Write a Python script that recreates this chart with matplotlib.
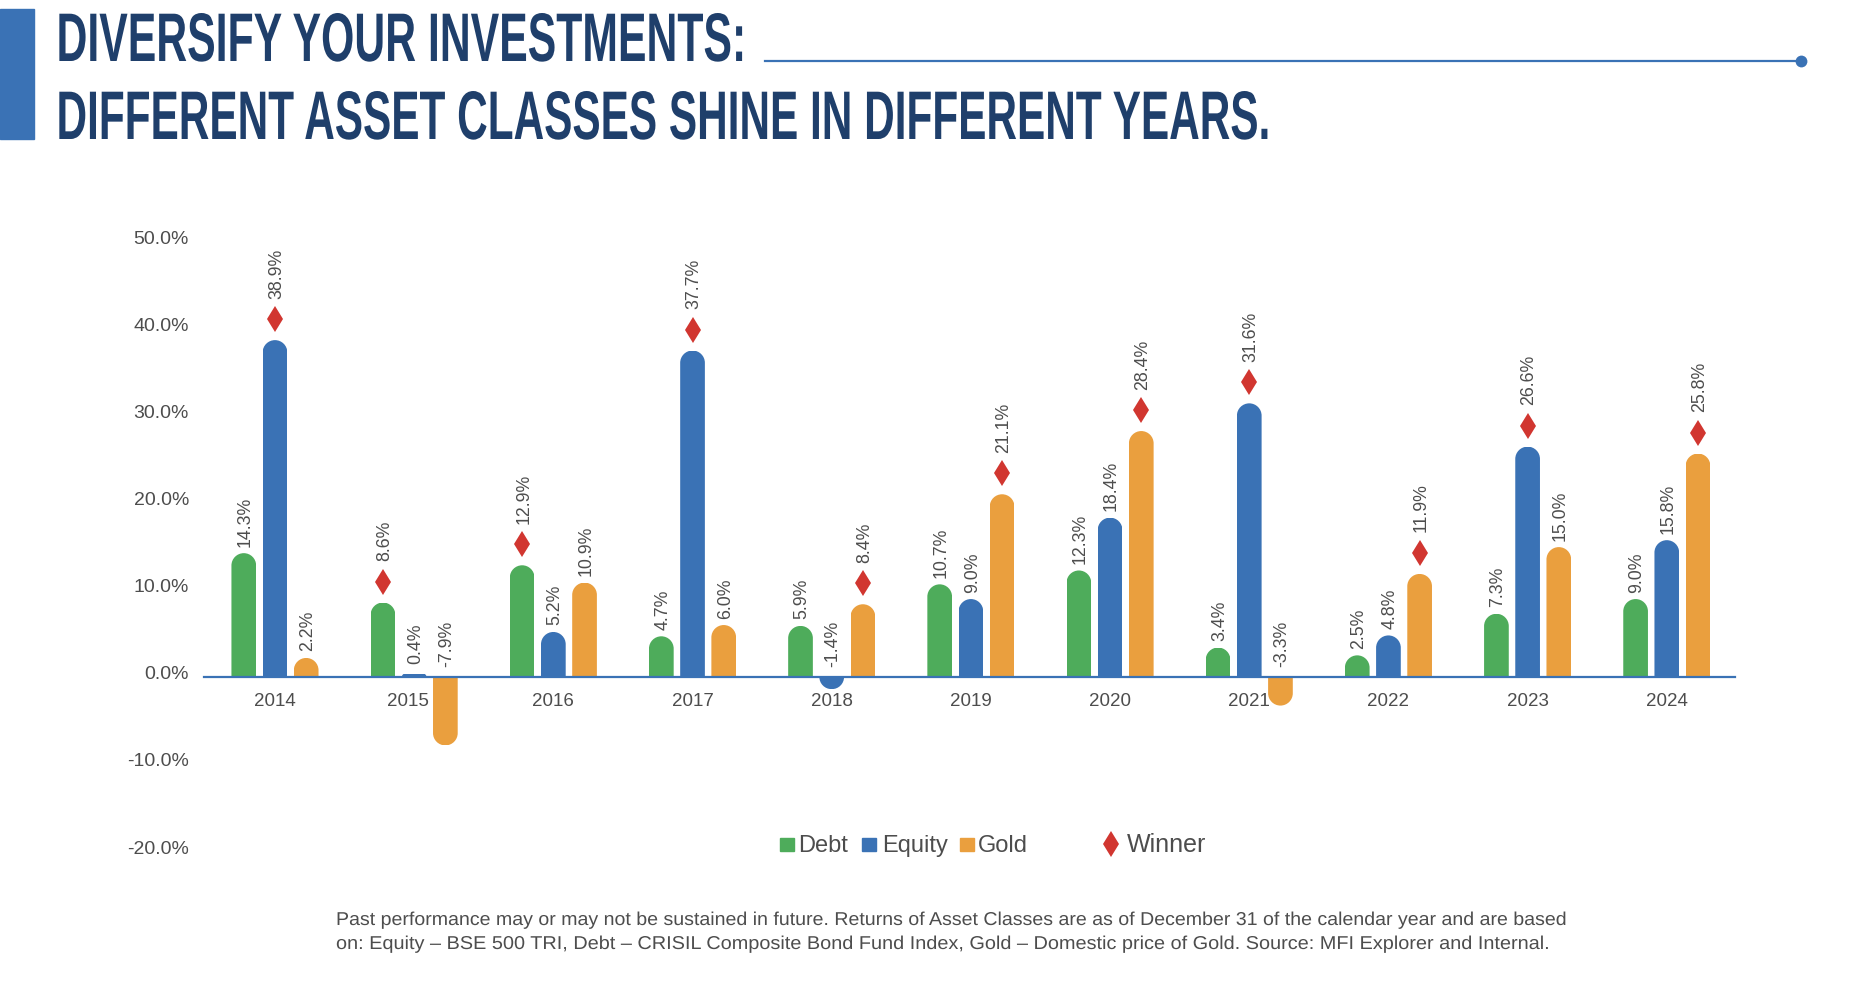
import numpy as np
import matplotlib
matplotlib.use('Agg')
import matplotlib.pyplot as plt
import matplotlib.patheffects as pe
from matplotlib.lines import Line2D
from matplotlib.patches import Rectangle
from matplotlib.path import Path
from matplotlib.transforms import Affine2D, ScaledTranslation, offset_copy

years = ['2014', '2015', '2016', '2017', '2018', '2019', '2020', '2021', '2022', '2023', '2024']
debt = [14.3, 8.6, 12.9, 4.7, 5.9, 10.7, 12.3, 3.4, 2.5, 7.3, 9.0]
equity = [38.9, 0.4, 5.2, 37.7, -1.4, 9.0, 18.4, 31.6, 4.8, 26.6, 15.8]
gold = [2.2, -7.9, 10.9, 6.0, 8.4, 21.1, 28.4, -3.3, 11.9, 15.0, 25.8]
y_ticks = [-20, -10, 0, 10, 20, 30, 40, 50]

GREEN = '#4EAC5B'
BLUE = '#3A72B5'
ORANGE = '#EA9F3E'
RED = '#D13630'
NAVY = '#1F3F6B'
GREY = '#4D4D4D'

W, H = 1860, 992
plt.rcParams['font.family'] = ['Liberation Sans', 'DejaVu Sans']


def pt(px):
    return px * 0.72


def fx(x):
    return x / W


def fy(y):
    return 1 - y / H


class Stretch(pe.AbstractPathEffect):
    # the header and footer fonts have other widths than anything installed
    def __init__(self, x0, y0, sx, sy=1):
        super().__init__()
        self.x0, self.y0, self.sx, self.sy = x0, y0, sx, sy

    def draw_path(self, renderer, gc, tpath, affine, rgbFace=None):
        m = Affine2D().translate(-self.x0, -self.y0).scale(self.sx, self.sy).translate(self.x0, self.y0)
        renderer.draw_path(gc, tpath, affine + m, rgbFace)


def rounded_bar_path(x, w, v, ry):
    # bar outline with a rounded end, used to clip the plain bar
    s = np.sign(v) if v != 0 else 1
    frac = min(1, abs(v) / ry)
    ry = ry * frac
    rx = w / 2 * frac
    k = 0.5523
    l, r = x - w / 2, x + w / 2
    sh = v - s * ry
    verts = [(l, 0), (l, sh),
             (l, sh + s * k * ry), (l + rx * (1 - k), v), (l + rx, v),
             (r - rx, v),
             (r - rx * (1 - k), v), (r, sh + s * k * ry), (r, sh),
             (r, 0), (l, 0)]
    codes = [Path.MOVETO, Path.LINETO,
             Path.CURVE4, Path.CURVE4, Path.CURVE4,
             Path.LINETO,
             Path.CURVE4, Path.CURVE4, Path.CURVE4,
             Path.LINETO, Path.CLOSEPOLY]
    return Path(verts, codes)


y_scale = 8.66
zero_px = 677
top_px = zero_px - 50 * y_scale
bot_px = zero_px + 20 * y_scale

fig = plt.figure(figsize=(W / 100, H / 100), dpi=100)
ax = fig.add_axes([fx(204), fy(bot_px), (1735 - 204) / W, (bot_px - top_px) / H])

x = np.arange(len(years))
bar_w = 24.7 / 139.2
step = 31.2 / 139.2

series = [(debt, GREEN, -step), (equity, BLUE, 0), (gold, ORANGE, step)]
winner = np.argmax(np.array([debt, equity, gold]), axis=0)

for k, (vals, color, off) in enumerate(series):
    bars = ax.bar(x + off, vals, bar_w, color=color, zorder=1)
    for i, (b, v) in enumerate(zip(bars, vals)):
        b.set_clip_path(rounded_bar_path(i + off, bar_w, v, 12.3 / y_scale), ax.transData)
        if winner[i] == k:
            gap = 41.5
        elif v < 1:
            gap = 10
        else:
            gap = 6.5
        ax.annotate(f'{v:.1f}%', xy=(i + off, max(v, 0)), xytext=(pt(1.5), pt(gap)),
                    textcoords='offset points', rotation=90, ha='center', va='bottom',
                    fontsize=12.8, color=GREY, zorder=4)

# diamonds sit a fixed distance above the winning bar
win_x = x + (winner - 1) * step
win_y = np.max(np.array([debt, equity, gold]), axis=0)
up = offset_copy(ax.transData, fig=fig, x=0, y=pt(21), units='points')
ax.plot(win_x, win_y, linestyle='none', marker='d', markersize=13, color=RED,
        markeredgewidth=0, transform=up, zorder=3, clip_on=False)

ax.set_xlim(-0.51, 10.49)
ax.set_ylim(-20, 50)
ax.set_xticks(x)
ax.set_xticklabels(years)
ax.set_yticks(y_ticks)
ax.set_yticklabels([f'{t:.1f}%' for t in y_ticks])
ax.tick_params(axis='x', length=0, pad=pt(16), labelsize=13.5, labelcolor=GREY)
ax.tick_params(axis='y', length=0, pad=pt(15), labelsize=14, labelcolor=GREY)

for s in ['top', 'left', 'right']:
    ax.spines[s].set_visible(False)
ax.spines['bottom'].set_position(('data', 0))
ax.spines['bottom'].set_color(BLUE)
ax.spines['bottom'].set_linewidth(1.6)
ax.patch.set_visible(False)

# the original's tick labels are spaced a little wider than its bars
for t, lab in zip(y_ticks, ax.get_yticklabels()):
    shift = ScaledTranslation(0, pt(4.2 + 0.05 * t) / 72, fig.dpi_scale_trans)
    lab.set_transform(lab.get_transform() + shift)
# the 2015 label is off centre in the original
left6 = ScaledTranslation(pt(-6) / 72, 0, fig.dpi_scale_trans)
lab15 = ax.get_xticklabels()[1]
lab15.set_transform(lab15.get_transform() + left6)

# legend, placed by hand because the entries are unevenly spaced
legend_labels = ['Debt', 'Equity', 'Gold']
legend_colors = [GREEN, BLUE, ORANGE]
swatch_left = [780, 862, 960]
text_left = [798, 882, 978]
for lab, c, sx, tx in zip(legend_labels, legend_colors, swatch_left, text_left):
    fig.add_artist(Rectangle((fx(sx), fy(851)), fx(13.5), 13 / H, color=c, transform=fig.transFigure))
    fig.text(fx(tx), fy(852), lab, ha='left', va='baseline', fontsize=17, color=GREY)
fig.add_artist(Line2D([fx(1111)], [fy(844)], linestyle='none', marker='d', markersize=13,
                      markeredgewidth=0, color=RED))
fig.text(fx(1127), fy(852), 'Winner', ha='left', va='baseline', fontsize=18, color=GREY)

# header
fig.add_artist(Rectangle((0, fy(138.5)), fx(33.5), (138.5 - 9) / H, color=BLUE, transform=fig.transFigure))
fig.add_artist(Line2D([fx(765), fx(1801)], [fy(61), fy(61)], color=BLUE, linewidth=1.6))
fig.add_artist(Line2D([fx(1801)], [fy(61)], marker='o', markersize=8.5, markeredgewidth=0, color=BLUE))

title_lines = [('DIVERSIFY YOUR INVESTMENTS:', 61, 745), ('DIFFERENT ASSET CLASSES SHINE IN DIFFERENT YEARS.', 139, 1268)]
title_size = 38
renderer = fig.canvas.get_renderer()
for line, base, right in title_lines:
    t = fig.text(fx(56.5), fy(base), line, ha='left', va='baseline', fontsize=title_size, color=NAVY,
                 family=['Liberation Sans Narrow', 'Liberation Sans'], fontweight='bold')
    width = t.get_window_extent(renderer).width
    t.set_path_effects([Stretch(56.5, H - base, (right - 56.5) / width, 49.5 / title_size)])

# footer
foot = ['Past performance may or may not be sustained in future. Returns of Asset Classes are as of December 31 of the calendar year and are based',
        'on: Equity \u2013 BSE 500 TRI, Debt \u2013 CRISIL Composite Bond Fund Index, Gold \u2013 Domestic price of Gold. Source: MFI Explorer and Internal.']
for line, yc, right in zip(foot, [920.5, 944.5], [1564.5, 1548]):
    t = fig.text(fx(336), fy(yc), line, ha='left', va='center', fontsize=13.4, color=GREY)
    width = t.get_window_extent(renderer).width
    t.set_path_effects([Stretch(336, H - yc, (right - 336) / width)])

fig.savefig('out.png', dpi=100, facecolor='white')
